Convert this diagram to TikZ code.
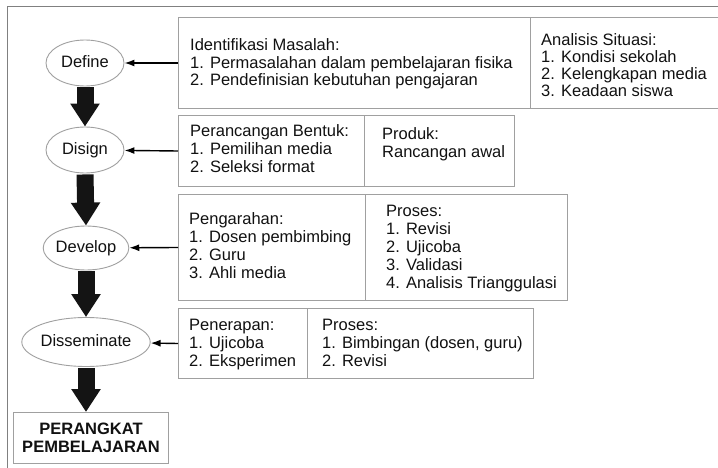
\documentclass[tikz,border=0pt]{standalone}
\usepackage{fontspec}
\setmainfont{Liberation Sans}
\usetikzlibrary{arrows.meta,shapes.geometric}
\definecolor{boxgray}{HTML}{A0A0A0}
\definecolor{framegray}{HTML}{808080}
\definecolor{ink}{HTML}{111111}
\newcommand\txtlines[5]{% name, x, first baseline, skip, list
  \foreach \s [count=\i] in {#5} {
    \node[txt] (#1-\i) at (#2,{#3+(\i-1)*#4}) {\s};
  }}
\begin{document}
\begin{tikzpicture}[x=1pt,y=-1pt,
  cell/.style={draw=boxgray, line width=1pt, anchor=north west, inner sep=0pt},
  ell/.style={draw=boxgray, line width=0.9pt, ellipse, inner sep=0pt, text=ink,
              font=\fontsize{16.5}{18}\selectfont, text height=12pt, text depth=3.5pt},
  txt/.style={anchor=base west, inner sep=0pt, text=ink, font=\fontsize{16.5}{18}\selectfont},
  thinarrow/.style={draw=black, line width=1.4pt, -{Latex[length=10pt,width=7pt]}},
  bigarrow/.style={draw=black!92, line width=17pt, -{Triangle[length=23pt,width=28pt]}, shorten <=1pt}
]
\useasboundingbox (0,0) rectangle (718,468);
\fill[white] (0,0) rectangle (718,468);
% outer frame
\draw[framegray, line width=1pt] (7,470) -- (7,7) -- (720,7);

% ellipses
\node[ell, minimum width=78pt, minimum height=46pt] (d1) at (85,63) {Define};
\node[ell, minimum width=78pt, minimum height=46pt] (d2) at (85,150) {Disign};
\node[ell, minimum width=80pt, minimum height=44pt] (d3) at (86,248) {Develop};
\node[ell, minimum width=103pt, minimum height=49pt] (d4) at (86,342) {Disseminate};

% final box
\node[cell, minimum width=155pt, minimum height=51pt, align=center, text=ink,
      font=\fontsize{16.5}{18}\selectfont\bfseries] (fb) at (13,412) {PERANGKAT\\PEMBELAJARAN};

% compartments
\node[cell, minimum width=352pt, minimum height=91pt] (b1) at (178,17) {};
\node[cell, minimum width=192pt, minimum height=91pt] (a1) at (530,17) {};
\node[cell, minimum width=186pt, minimum height=71pt] (b2) at (178,115) {};
\node[cell, minimum width=150pt, minimum height=71pt] (p2) at (364,115) {};
\node[cell, minimum width=187pt, minimum height=106pt] (b3) at (178,194) {};
\node[cell, minimum width=202pt, minimum height=106pt] (p3) at (365,194) {};
\node[cell, minimum width=129pt, minimum height=70pt] (b4) at (178,308) {};
\node[cell, minimum width=226pt, minimum height=70pt] (p4) at (307,308) {};

% texts
\txtlines{t1}{190}{51}{17.5}{Identifikasi Masalah:,1. Permasalahan dalam pembelajaran fisika,2. Pendefinisian kebutuhan pengajaran}
\txtlines{ta}{541}{46}{17}{Analisis Situasi:,1. Kondisi sekolah,2. Kelengkapan media,3. Keadaan siswa}
\txtlines{t2}{190}{137}{18}{Perancangan Bentuk:,1. Pemilihan media,2. Seleksi format}
\txtlines{tp}{382}{140}{18}{Produk:,Rancangan awal}
\txtlines{t3}{189}{224}{18}{Pengarahan:,1. Dosen pembimbing,2. Guru,3. Ahli media}
\txtlines{tq}{386}{216}{18}{Proses:,1. Revisi,2. Ujicoba,3. Validasi,4. Analisis Trianggulasi}
\txtlines{t4}{189}{330}{18}{Penerapan:,1. Ujicoba,2. Eksperimen}
\txtlines{tr}{322}{330}{18}{Proses:,{1. Bimbingan (dosen, guru)},2. Revisi}

% thin arrows
\draw[thinarrow] (b1.west) -- (d1);
\draw[thinarrow] (b2.west) -- (d2);
\draw[thinarrow] (b3.west) -- (d3);
\draw[thinarrow] (b4.west) -- (d4);

% block arrows
\draw[bigarrow] (d1.south) -- (d2.north);
\draw[bigarrow] (d2.south) -- (d3.north);
\draw[bigarrow] (d3.south) -- (d4.north);
\draw[bigarrow] (d4.south) -- (d4.south |- fb.north);
\end{tikzpicture}
\end{document}
